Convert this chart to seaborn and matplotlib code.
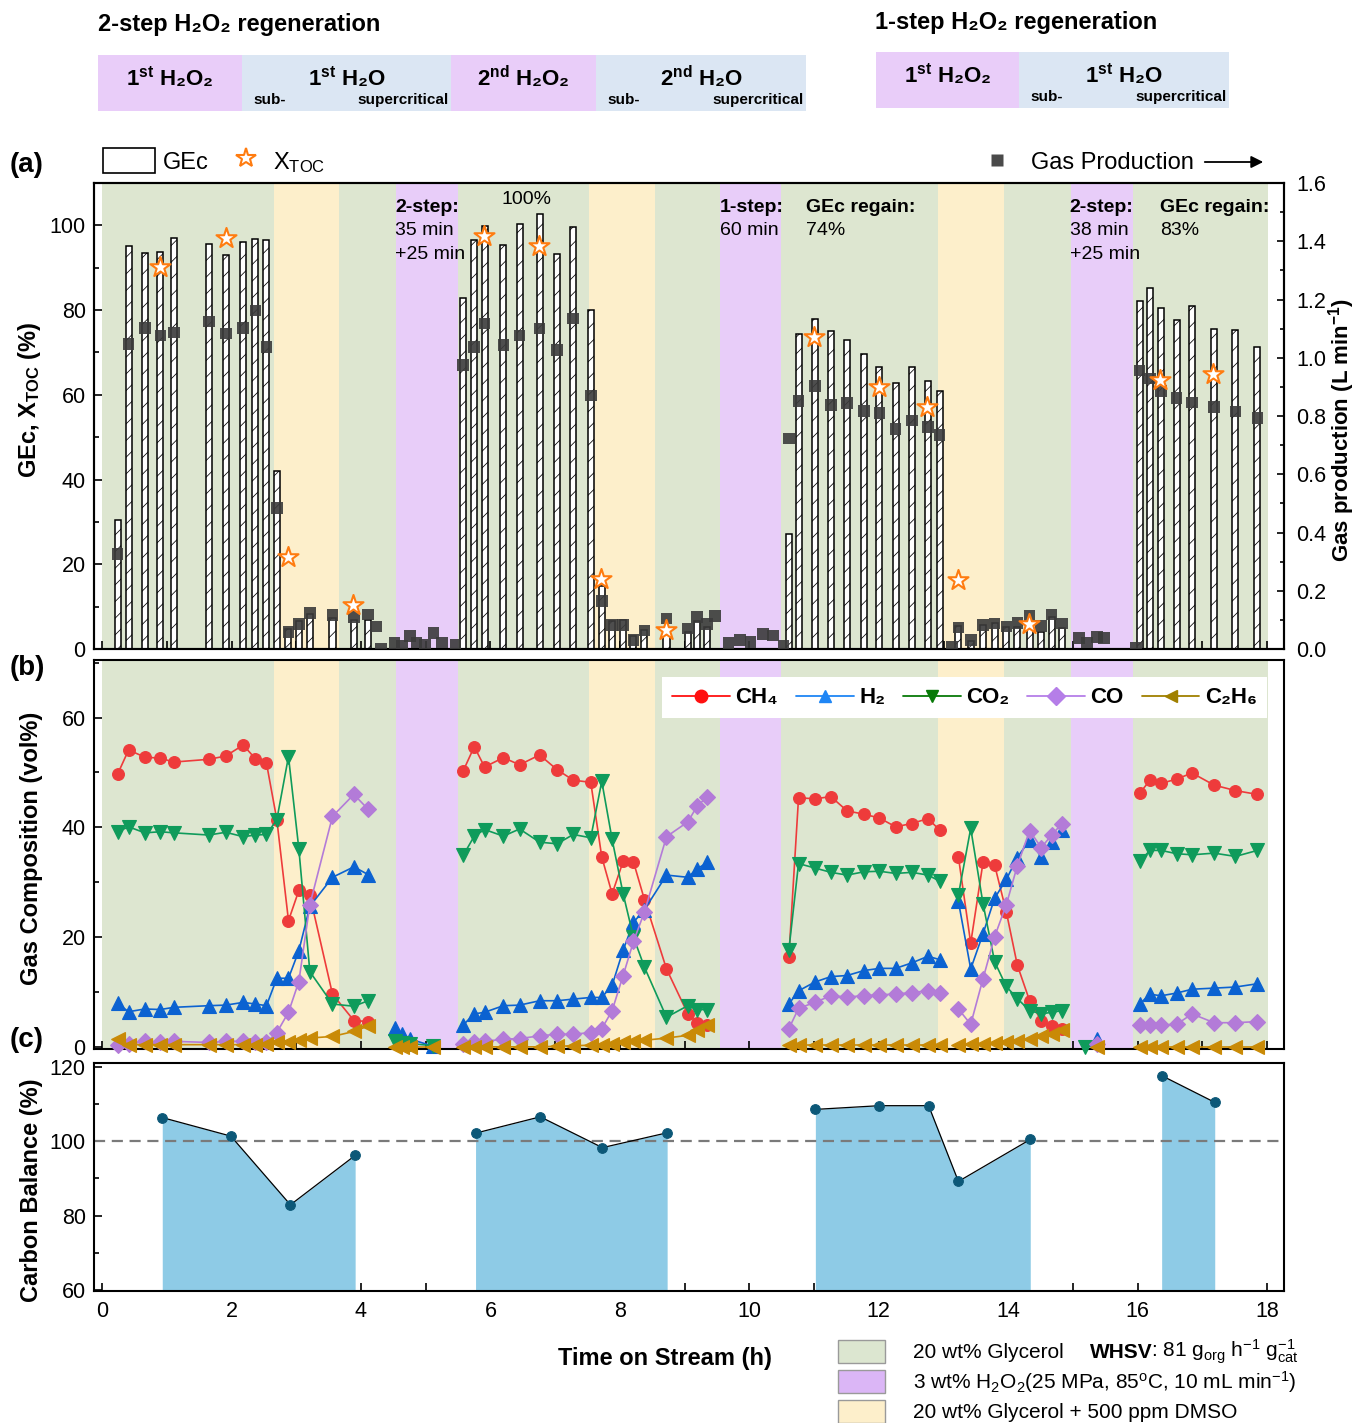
import numpy as np
import pandas as pd
import matplotlib
matplotlib.use("Agg")
import matplotlib.pyplot as plt
import seaborn as sns
from matplotlib.patches import Rectangle, FancyArrowPatch
from matplotlib.lines import Line2D
from matplotlib.ticker import MultipleLocator, FormatStrFormatter

# ------------------------------------------------------------------ data
# sampling times (h on stream) of the four glycerol cycles
t_cycle1 = [0.24, 0.41, 0.66, 0.90, 1.11, 1.65, 1.91, 2.18, 2.37, 2.54, 2.70,
            2.88, 3.04, 3.21, 3.56, 3.89, 4.11]
t_cycle2 = [5.58, 5.75, 5.91, 6.20, 6.45, 6.76, 7.03, 7.28, 7.55, 7.72, 7.88,
            8.05, 8.21, 8.38, 8.72, 9.05, 9.19, 9.35]
t_cycle3 = [10.61, 10.76, 11.01, 11.26, 11.51, 11.77, 12.01, 12.26, 12.51,
            12.76, 12.94, 13.23, 13.42, 13.61, 13.79, 13.97, 14.14, 14.33,
            14.51, 14.67, 14.83]
t_cycle4 = [16.03, 16.19, 16.36, 16.60, 16.84, 17.18, 17.51, 17.85]
# line segment id of each sample (cycle 3 is split at the DMSO switch)
seg_samples = [1] * 17 + [2] * 18 + [3] * 11 + [4] * 10 + [5] * 8

# gasification efficiency GEc (%)
gec = ([30.5, 95.1, 93.4, 93.6, 97.0, 95.5, 92.9, 96.0, 96.7, 96.5, 42.1,
        4.8, 6.5, 8.2, 7.4, 6.9, 6.9]
       + [82.8, 96.6, 99.9, 95.4, 100.3, 102.6, 93.2, 99.7, 80.0, 14.9, 6.6,
          6.8, 3.1, 4.5, 4.0, 4.1, 6.5, 5.1]
       + [27.1, 74.4, 77.8, 75.1, 72.9, 69.6, 66.6, 62.7, 66.6, 63.3, 61.0,
          5.4, 2.0, 5.7, 6.1, 5.2, 5.2, 5.3, 4.1, 7.6, 4.9]
       + [82.2, 85.1, 80.4, 77.7, 81.0, 75.5, 75.3, 71.4])

# gas production (L/min) at the cycle samples
gas_prod = ([0.326, 1.047, 1.102, 1.077, 1.087, 1.124, 1.083, 1.102, 1.162,
             1.037, 0.485, 0.059, 0.086, 0.123, 0.117, 0.111, 0.119]
            + [0.975, 1.037, 1.117, 1.043, 1.076, 1.101, 1.027, 1.135, 0.870,
               0.165, 0.082, 0.082, 0.031, 0.063, 0.105, 0.071, 0.109, 0.086]
            + [0.723, 0.851, 0.903, 0.837, 0.844, 0.817, 0.810, 0.755, 0.784,
               0.763, 0.735, 0.074, 0.031, 0.082, 0.088, 0.077, 0.090, 0.114,
               0.079, 0.119, 0.088]
            + [0.956, 0.929, 0.886, 0.862, 0.847, 0.831, 0.816, 0.794])
# gas production during transitions and regeneration
t_gas_extra = [4.23, 4.31, 4.52, 4.63, 4.76, 4.86, 4.99, 5.12, 5.25, 5.46,
               9.47, 9.68, 9.86, 10.02, 10.21, 10.37, 10.53, 13.13,
               15.09, 15.22, 15.37, 15.48, 15.97]
gas_extra = [0.077, 0.002, 0.020, 0.012, 0.045, 0.023, 0.014, 0.056, 0.022,
             0.014, 0.114, 0.020, 0.031, 0.025, 0.051, 0.046, 0.010, 0.008,
             0.037, 0.022, 0.042, 0.037, 0.005]

# TOC conversion (%)
t_xtoc = [0.90, 1.91, 2.88, 3.88, 5.90, 6.75, 7.71, 8.71, 11.00, 12.00,
          12.75, 13.22, 14.32, 16.35, 17.17]
xtoc = [90.1, 97.0, 21.8, 10.4, 97.6, 95.1, 16.5, 4.5, 73.7, 61.8, 57.2,
        16.3, 5.9, 63.5, 64.9]

# gas composition (vol%) at the cycle samples
ch4 = ([49.7, 54.1, 52.8, 52.6, 51.9, 52.4, 53.0, 55.0, 52.5, 51.7, 41.4,
        23.0, 28.5, 27.6, 9.6, 4.8, 4.6]
       + [50.3, 54.7, 51.0, 52.7, 51.4, 53.2, 50.5, 48.6, 48.2, 34.6, 27.9,
          33.8, 33.7, 26.8, 14.2, 6.0, 4.4, 4.0]
       + [16.3, 45.4, 45.2, 45.6, 43.0, 42.4, 41.7, 40.1, 40.7, 41.6, 39.5,
          34.6, 18.9, 33.6, 33.1, 24.6, 14.9, 8.4, 4.8, 3.8, 3.2]
       + [46.2, 48.6, 48.0, 48.8, 49.9, 47.7, 46.7, 46.0])
h2 = ([7.9, 6.4, 6.9, 6.8, 7.2, 7.5, 7.6, 8.1, 7.8, 7.5, 12.5, 12.5, 17.5,
       25.6, 30.9, 32.8, 31.4]
      + [4.0, 6.0, 6.3, 7.5, 7.6, 8.4, 8.4, 8.7, 9.0, 9.0, 11.2, 17.6, 22.7,
         25.0, 31.3, 30.9, 32.4, 33.6]
      + [7.8, 10.2, 11.8, 12.8, 13.0, 13.9, 14.3, 14.3, 15.3, 16.5, 15.9,
         26.5, 14.2, 20.6, 27.1, 30.5, 34.5, 37.7, 34.6, 37.3, 39.5]
      + [7.8, 9.6, 9.3, 9.8, 10.5, 10.7, 10.9, 11.5])
co2 = ([39.2, 40.1, 39.0, 39.2, 39.0, 38.6, 39.1, 38.3, 38.6, 38.7, 41.4,
        52.9, 36.1, 13.7, 7.8, 7.4, 8.4]
       + [34.9, 38.4, 39.6, 38.4, 39.7, 37.3, 37.0, 38.7, 38.1, 48.4, 37.8,
          27.9, 20.0, 14.5, 5.4, 7.5, 6.8, 6.8]
       + [17.6, 33.4, 32.6, 31.8, 31.3, 31.9, 32.0, 31.6, 31.8, 31.3, 30.2,
          27.7, 39.8, 26.1, 15.5, 11.0, 8.8, 6.6, 6.0, 6.3, 6.6]
       + [33.8, 35.8, 35.8, 35.2, 35.0, 35.3, 34.7, 35.8])
co = ([0.3, 0.5, 1.0, 0.8, 1.0, 0.8, 1.0, 1.0, 0.8, 0.8, 2.6, 6.3, 11.9,
       25.9, 42.0, 46.0, 43.3]
      + [0.5, 0.8, 1.0, 1.4, 1.5, 2.0, 2.3, 2.3, 2.6, 3.3, 6.6, 13.0, 19.2,
         24.6, 38.3, 41.0, 43.8, 45.6]
      + [3.3, 7.0, 8.1, 9.3, 9.1, 9.3, 9.5, 9.6, 9.9, 10.2, 9.8, 6.9, 4.1,
         12.4, 20.1, 25.9, 33.0, 39.4, 36.3, 38.6, 40.7]
      + [4.0, 4.0, 4.0, 4.1, 6.0, 4.4, 4.4, 4.6])
c2h6 = ([1.4, 0.4, 0.4, 0.4, 0.4, 0.4, 0.4, 0.4, 0.4, 0.5, 0.8, 0.8, 1.2,
         1.6, 1.9, 2.8, 3.8]
        + [0.0, 0.0, 0.0, 0.0, 0.0, 0.0, 0.1, 0.2, 0.3, 0.4, 0.6, 0.9, 1.0,
           1.2, 1.6, 2.1, 3.0, 3.9]
        + [0.4, 0.4, 0.4, 0.4, 0.4, 0.4, 0.4, 0.4, 0.4, 0.4, 0.4, 0.4, 0.5,
           0.6, 0.7, 0.9, 1.1, 1.4, 1.9, 2.4, 3.0]
        + [0.0, 0.0, 0.0, 0.0, 0.0, 0.0, 0.0, 0.0])

# gas composition during the H2O2 regeneration steps
t_regen = [4.52, 4.63, 4.76, 5.12, 15.19, 15.37]
seg_regen = [6, 6, 6, 6, 7, 7]
ch4_regen = [np.nan] * 6
h2_regen = [3.5, 2.4, 1.4, 0.1, np.nan, 1.4]
co2_regen = [1.0, 0.7, 0.6, 0.2, 0.0, np.nan]
co_regen = [np.nan, np.nan, np.nan, np.nan, np.nan, 0.5]
c2h6_regen = [0.0, 0.0, 0.0, 0.0, np.nan, 0.0]

# carbon balance (%)
t_cb = [0.93, 1.99, 2.91, 3.91, 5.77, 6.77, 7.73, 8.73, 11.02, 12.01, 12.77,
        13.23, 14.34, 16.37, 17.19]
carbon_balance = [106.4, 101.4, 82.9, 96.2, 102.2, 106.6, 98.3, 102.3, 108.6,
                  109.6, 109.6, 89.2, 100.5, 117.7, 110.5]
cb_group = [1, 1, 1, 1, 2, 2, 2, 2, 3, 3, 3, 3, 3, 4, 4]

# feed stages along the time axis
stage_bounds = [0.0, 2.66, 3.66, 4.54, 5.50, 7.53, 8.54, 9.55, 10.49, 12.91,
                13.93, 14.97, 15.92, 18.01]
stage_feed = ["gly", "dmso", "gly", "h2o2", "gly", "dmso", "gly", "h2o2",
              "gly", "dmso", "gly", "h2o2", "gly"]

gases = ["CH₄", "H₂", "CO₂", "CO", "C₂H₆"]

# ------------------------------------------------------------------ style
sns.set_theme(style="ticks")
plt.rcParams.update({
    "font.family": ["Liberation Sans", "DejaVu Sans"],
    "mathtext.fontset": "custom",
    "mathtext.rm": "Liberation Sans",
    "mathtext.it": "Liberation Sans:italic",
    "mathtext.bf": "Liberation Sans:bold",
    "mathtext.sf": "Liberation Sans",
    "hatch.linewidth": 0.55,
    "axes.edgecolor": "black",
    "text.color": "black",
    "axes.labelcolor": "black",
    "xtick.color": "black",
    "ytick.color": "black",
})

FEED_COLORS = {"gly": "#dde6d0", "dmso": "#fdefcb", "h2o2": "#e8cdf9"}
GAS_COLORS = ["#ee3b3b", "#0b62d1", "#0f9b5b", "#b37bd8", "#c98a06"]
GAS_LEGEND_COLORS = ["#ff1010", "#1f86f5", "#087a08", "#b57ee8", "#a08000"]
GAS_MARKERS = ["o", "^", "v", "D", "<"]
GAS_MS = [8.5, 9.5, 9.5, 8.5, 9.5]
STAR = "#ff7c10"

W, H = 1357, 1423


def fx(px):
    return px / W


def fy(py):
    return 1 - py / H


fig = plt.figure(figsize=(W / 100, H / 100), dpi=100)
ax_a = fig.add_axes([0.0693, 0.5439, 0.8769, 0.3275])
ax_b = fig.add_axes([0.0693, 0.2628, 0.8769, 0.2734])
ax_c = fig.add_axes([0.0693, 0.0928, 0.8769, 0.1602])
XLIM = (-0.124, 18.26)


def style_axis(ax):
    for s in ax.spines.values():
        s.set_linewidth(1.5)
        s.set_color("black")
    ax.tick_params(which="both", direction="in", width=1.2, labelsize=15.5,
                   top=False, right=False)
    ax.tick_params(axis="x", which="both", length=6)
    ax.tick_params(axis="y", which="major", length=6, pad=6)
    ax.tick_params(axis="y", which="minor", length=3.5)
    ax.xaxis.set_major_locator(MultipleLocator(2))
    ax.xaxis.set_minor_locator(MultipleLocator(1))
    ax.set_xlim(*XLIM)


for ax in (ax_a, ax_b, ax_c):
    style_axis(ax)

# background stages
for ax in (ax_a, ax_b):
    for lo, hi, feed in zip(stage_bounds[:-1], stage_bounds[1:], stage_feed):
        ax.axvspan(lo, hi, color=FEED_COLORS[feed], lw=0, zorder=0)

# ------------------------------------------------------------------ panel (a)
t_all = t_cycle1 + t_cycle2 + t_cycle3 + t_cycle4
ax_a.bar(t_all, gec, width=0.093, facecolor="white", edgecolor="black",
         lw=1.1, hatch="//", zorder=2)
ax_a.set_ylim(0, 110)
ax_a.yaxis.set_major_locator(MultipleLocator(20))
ax_a.yaxis.set_minor_locator(MultipleLocator(10))
ax_a.tick_params(axis="x", labelbottom=False)
ax_a.set_ylabel(r"GEc, X$_{\mathbf{TOC}}$ (%)", fontsize=17, fontweight="bold")
ax_a.yaxis.set_label_coords(-0.043, 0.535)

ax_g = ax_a.twinx()
ax_g.set_xlim(*XLIM)
ax_g.set_ylim(0, 1.6)
gas_df = pd.DataFrame({"t": t_all + t_gas_extra, "gas": gas_prod + gas_extra})
sns.scatterplot(data=gas_df, x="t", y="gas", marker="s", s=70, color="#3b3b3b",
                alpha=0.9, edgecolor="none", linewidth=0, legend=False,
                ax=ax_g, zorder=3)
ax_g.set_xlabel("")
ax_g.yaxis.set_major_locator(MultipleLocator(0.2))
ax_g.yaxis.set_minor_locator(MultipleLocator(0.1))
ax_g.yaxis.set_major_formatter(FormatStrFormatter("%.1f"))
ax_g.tick_params(axis="y", which="both", direction="in", width=1.2,
                 labelsize=15.5, pad=9, left=False, right=True)
ax_g.tick_params(axis="y", which="major", length=5)
ax_g.tick_params(axis="y", which="minor", length=3)
for s in ax_g.spines.values():
    s.set_linewidth(1.5)
ax_g.set_ylabel(r"Gas production (L min$^{\mathbf{-1}}$)", fontsize=16,
                fontweight="bold")
ax_g.yaxis.set_label_coords(1.035, 0.47)

ax_s = ax_a.twinx()
ax_s.set_xlim(*XLIM)
ax_s.set_ylim(0, 110)
ax_s.set_axis_off()
sns.scatterplot(x=t_xtoc, y=xtoc, marker="*", s=230, color="white",
                edgecolor=STAR, linewidth=1.5, legend=False, ax=ax_s, zorder=4)

notes = [
    (4.53, 104.3, "2-step:", "bold"), (4.53, 98.9, "35 min", "normal"),
    (4.53, 93.2, "+25 min", "normal"), (6.55, 106.0, "100%", "normal"),
    (9.55, 104.3, "1-step:", "bold"), (9.55, 98.9, "60 min", "normal"),
    (10.88, 104.3, "GEc regain:", "bold"), (10.88, 98.9, "74%", "normal"),
    (14.95, 104.3, "2-step:", "bold"), (14.95, 98.9, "38 min", "normal"),
    (14.95, 93.2, "+25 min", "normal"), (16.35, 104.3, "GEc regain:", "bold"),
    (16.35, 98.9, "83%", "normal"),
]
for x, y, s, w in notes:
    ha = "center" if s == "100%" else "left"
    ax_a.text(x, y, s, fontsize=14, fontweight=w, ha=ha, va="center", zorder=6)

# legend row above panel (a)
fig.add_artist(Rectangle((fx(103), fy(173)), fx(155) - fx(103), 25 / H,
                         transform=fig.transFigure, facecolor="white",
                         edgecolor="black", lw=1.2))
fig.text(fx(163), fy(169), "GEc", fontsize=17, va="baseline")
fig.add_artist(Line2D([fx(246)], [fy(158)], marker="*", ms=15, mfc="white",
                      mec=STAR, mew=1.5, transform=fig.transFigure))
fig.text(fx(273), fy(169), r"X$_{\rm TOC}$", fontsize=17, va="baseline")
fig.add_artist(Line2D([fx(997)], [fy(160)], marker="s", ms=8, mfc="#4a4a4a",
                      mec="none", transform=fig.transFigure))
fig.text(fx(1031), fy(169), "Gas Production", fontsize=17, va="baseline")
fig.add_artist(FancyArrowPatch((fx(1202), fy(162)), (fx(1266), fy(162)),
                               transform=fig.transFigure, arrowstyle="-|>",
                               mutation_scale=18, color="black", lw=1.3))

# ------------------------------------------------------------------ panel (b)
comp_series = [ch4, h2, co2, co, c2h6]
regen_series = [ch4_regen, h2_regen, co2_regen, co_regen, c2h6_regen]
for vals, rvals, col, mk, ms in zip(comp_series, regen_series, GAS_COLORS,
                                    GAS_MARKERS, GAS_MS):
    df = pd.DataFrame({"t": t_all + t_regen, "v": vals + rvals,
                       "seg": seg_samples + seg_regen}).dropna()
    sns.lineplot(data=df, x="t", y="v", units="seg", estimator=None,
                 sort=False, color=col, lw=1.2, marker=mk, markersize=ms,
                 markeredgecolor=col, markeredgewidth=0.8, legend=False,
                 clip_on=False, ax=ax_b, zorder=3)
ax_b.set_ylim(-0.4, 70.5)
ax_b.yaxis.set_major_locator(MultipleLocator(20))
ax_b.yaxis.set_minor_locator(MultipleLocator(10))
ax_b.tick_params(axis="x", labelbottom=False)
ax_b.set_xlabel("")
ax_b.set_ylabel("Gas Composition (vol%)", fontsize=17, fontweight="bold")
ax_b.yaxis.set_label_coords(-0.043, 0.517)

handles = [Line2D([], [], color=c, marker=m, ms=9, lw=1.3, mec=c)
           for c, m in zip(GAS_LEGEND_COLORS, GAS_MARKERS)]
leg = ax_b.legend(handles, gases, ncol=5, loc="upper right",
                  bbox_to_anchor=(0.9857, 0.955), frameon=True, fancybox=False,
                  facecolor="white", edgecolor="none", framealpha=1,
                  prop=dict(weight="bold", size=16), handlelength=2.6,
                  handletextpad=0.25, columnspacing=0.8, borderpad=0.45,
                  borderaxespad=0)
leg.set_zorder(6)

# ------------------------------------------------------------------ panel (c)
ax_c.set_ylim(59.7, 121.1)
for g in sorted(set(cb_group)):
    tt = [t for t, gg in zip(t_cb, cb_group) if gg == g]
    vv = [v for v, gg in zip(carbon_balance, cb_group) if gg == g]
    ax_c.fill_between(tt, vv, 59.7, color="#8ecbe6", lw=0, zorder=1)
ax_c.axhline(100, color="#7a7a7a", lw=1.6, ls=(0, (5, 3)), zorder=2)
cb_df = pd.DataFrame({"t": t_cb, "cb": carbon_balance, "grp": cb_group})
sns.lineplot(data=cb_df, x="t", y="cb", units="grp", estimator=None,
             color="black", lw=0.9, marker="o", markersize=7,
             markerfacecolor="#0c5878", markeredgecolor="#0c5878",
             legend=False, ax=ax_c, zorder=3)
ax_c.yaxis.set_major_locator(MultipleLocator(20))
ax_c.yaxis.set_minor_locator(MultipleLocator(10))
ax_c.tick_params(axis="x", pad=7)
ax_c.set_xlabel("")
ax_c.set_ylabel("Carbon Balance (%)", fontsize=17, fontweight="bold")
ax_c.yaxis.set_label_coords(-0.043, 0.443)

fig.text(fx(665), fy(1358), "Time on Stream (h)", fontsize=17,
         fontweight="bold", ha="center", va="center")

# panel letters
for y, lab in [(165, "(a)"), (668, "(b)"), (1040, "(c)")]:
    fig.text(fx(10), fy(y), lab, fontsize=20, fontweight="bold", va="center")

# ------------------------------------------------------------------ headers
PURPLE_HDR, BLUE_HDR = "#e9cdf9", "#dbe6f3"


def box(x0, x1, y0, y1, color, ec="none", lw=0):
    fig.add_artist(Rectangle((fx(x0), fy(y1)), fx(x1) - fx(x0), (y1 - y0) / H,
                             transform=fig.transFigure, facecolor=color,
                             edgecolor=ec, lw=lw))


def header(x_left, y_title, y0, y1, title, parts):
    fig.text(fx(x_left), fy(y_title), title, fontsize=17, fontweight="bold",
             va="center")
    for x0, x1, label, kind in parts:
        box(x0, x1, y0, y1, PURPLE_HDR if kind == "h2o2" else BLUE_HDR)
        fig.text(fx((x0 + x1) / 2), fy(y0 + 23), label, fontsize=16,
                 fontweight="bold", ha="center", va="center")
        if kind == "h2o":
            fig.text(fx(x0 + 11), fy(y0 + 45), "sub-", fontsize=11,
                     fontweight="bold", va="center")
            fig.text(fx(x1 - 2), fy(y0 + 45), "supercritical", fontsize=11,
                     fontweight="bold", va="center", ha="right")


header(98, 25, 55, 111, "2-step H₂O₂ regeneration", [
    (98, 242, r"1$^{\mathbf{st}}$ H₂O₂", "h2o2"),
    (242, 451, r"1$^{\mathbf{st}}$ H₂O", "h2o"),
    (451, 596, r"2$^{\mathbf{nd}}$ H₂O₂", "h2o2"),
    (596, 806, r"2$^{\mathbf{nd}}$ H₂O", "h2o"),
])
header(875, 22, 52, 108, "1-step H₂O₂ regeneration", [
    (876, 1019, r"1$^{\mathbf{st}}$ H₂O₂", "h2o2"),
    (1019, 1229, r"1$^{\mathbf{st}}$ H₂O", "h2o"),
])

# ------------------------------------------------------------------ feed legend
feed_rows = [
    (1340, "#dce6d0", "20 wt% Glycerol"),
    (1370, "#dbb6f6", r"3 wt% H$_2$O$_2$(25 MPa, 85$^{\rm o}$C, 10 mL min$^{-1}$)"),
    (1400, "#fdefcb", "20 wt% Glycerol + 500 ppm DMSO"),
]
for y0, col, txt in feed_rows:
    box(838, 885, y0, y0 + 23, col, ec="#9a9a9a", lw=1.0)
    fig.text(fx(913), fy(y0 + 12), txt, fontsize=15, va="center")
fig.text(fx(1090), fy(1352), "WHSV", fontsize=15, fontweight="bold",
         va="center")
fig.text(fx(1151), fy(1352), r": 81 g$_{\rm org}$ h$^{-1}$ g$_{\rm cat}^{-1}$",
         fontsize=15, va="center")

fig.savefig("out.png", dpi=100)
